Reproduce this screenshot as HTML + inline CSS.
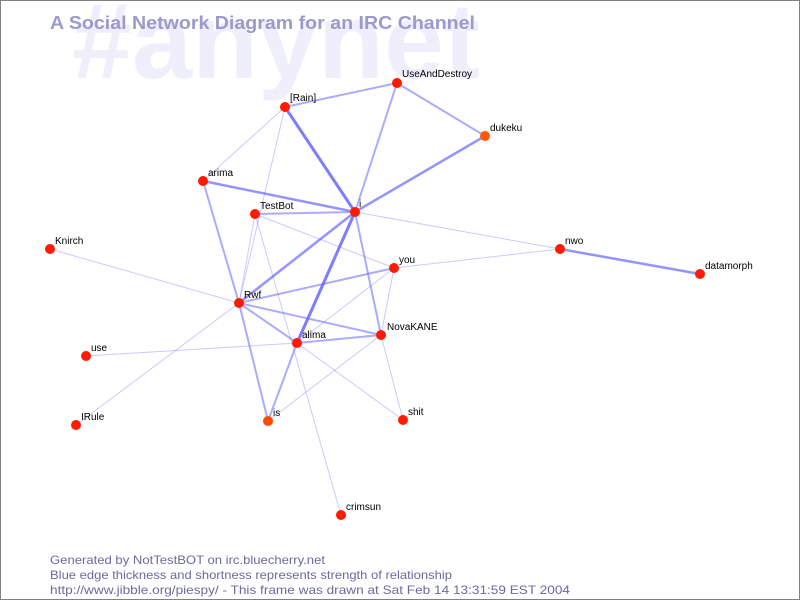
<!DOCTYPE html>
<html><head><style>
body{margin:0;background:#fff}
svg{display:block}
</style></head><body>
<svg width="800" height="600" xmlns="http://www.w3.org/2000/svg" font-family="Liberation Sans, DejaVu Sans, sans-serif">
<rect x="0.5" y="0.5" width="799" height="599" fill="#fff" stroke="#808080"/>
<text x="72" y="78" font-size="108" font-weight="bold" fill="#efeffc" textLength="408" lengthAdjust="spacingAndGlyphs">#anynet</text>
<text x="50" y="29" font-size="18" font-weight="bold" fill="#9a9acc" textLength="425" lengthAdjust="spacingAndGlyphs">A Social Network Diagram for an IRC Channel</text>
<g stroke="#6666ff" fill="none" stroke-linecap="round">
<g stroke-opacity="0.35" stroke-width="1">
<line x1="285" y1="107" x2="203" y2="181"/>
<line x1="285" y1="107" x2="239" y2="303"/>
<line x1="255" y1="214" x2="239" y2="303"/>
<line x1="255" y1="214" x2="394" y2="268"/>
<line x1="255" y1="214" x2="341" y2="515"/>
<line x1="355" y1="212" x2="560" y2="249"/>
<line x1="394" y1="268" x2="560" y2="249"/>
<line x1="50" y1="249" x2="239" y2="303"/>
<line x1="239" y1="303" x2="76" y2="425"/>
<line x1="297" y1="343" x2="86" y2="356"/>
<line x1="297" y1="343" x2="394" y2="268"/>
<line x1="394" y1="268" x2="381" y2="335"/>
<line x1="381" y1="335" x2="268" y2="421"/>
<line x1="297" y1="343" x2="403" y2="420"/>
<line x1="381" y1="335" x2="403" y2="420"/>
</g>
<g stroke-opacity="0.55" stroke-width="2">
<line x1="285" y1="107" x2="397" y2="83"/>
<line x1="397" y1="83" x2="485" y2="136"/>
<line x1="397" y1="83" x2="355" y2="212"/>
<line x1="255" y1="214" x2="355" y2="212"/>
<line x1="203" y1="181" x2="239" y2="303"/>
<line x1="355" y1="212" x2="381" y2="335"/>
<line x1="239" y1="303" x2="394" y2="268"/>
<line x1="239" y1="303" x2="381" y2="335"/>
<line x1="239" y1="303" x2="297" y2="343"/>
<line x1="239" y1="303" x2="268" y2="421"/>
<line x1="297" y1="343" x2="381" y2="335"/>
<line x1="297" y1="343" x2="268" y2="421"/>
</g>
<g stroke-opacity="0.7" stroke-width="2.5">
<line x1="203" y1="181" x2="355" y2="212"/>
<line x1="485" y1="136" x2="355" y2="212"/>
<line x1="355" y1="212" x2="239" y2="303"/>
<line x1="560" y1="249" x2="700" y2="274"/>
</g>
<g stroke-opacity="0.85" stroke-width="3">
<line x1="285" y1="107" x2="355" y2="212"/>
<line x1="355" y1="212" x2="297" y2="343"/>
</g>
</g>
<g fill="#ff1a00">
<circle cx="397" cy="83" r="5"/><circle cx="285" cy="107" r="5"/>
<circle cx="485" cy="136" r="5" fill="#ff5a00"/><circle cx="203" cy="181" r="5"/>
<circle cx="355" cy="212" r="5"/><circle cx="255" cy="214" r="5"/>
<circle cx="50" cy="249" r="5"/><circle cx="560" cy="249" r="5"/>
<circle cx="394" cy="268" r="5"/><circle cx="700" cy="274" r="5"/>
<circle cx="239" cy="303" r="5"/><circle cx="381" cy="335" r="5"/>
<circle cx="297" cy="343" r="5"/><circle cx="86" cy="356" r="5"/>
<circle cx="76" cy="425" r="5"/><circle cx="268" cy="421" r="5" fill="#ff4a00"/>
<circle cx="403" cy="420" r="5"/><circle cx="341" cy="515" r="5"/>
</g>
<g font-size="10" fill="#000">
<text x="402" y="77">UseAndDestroy</text>
<text x="290" y="101">[Rain]</text>
<text x="490" y="131">dukeku</text>
<text x="208" y="176">arima</text>
<text x="359" y="207">i</text>
<text x="260" y="209">TestBot</text>
<text x="55" y="244">Knirch</text>
<text x="565" y="244">nwo</text>
<text x="399" y="263">you</text>
<text x="705" y="269">datamorph</text>
<text x="244" y="298">Rwf</text>
<text x="387" y="330">NovaKANE</text>
<text x="302" y="338">alima</text>
<text x="91" y="351">use</text>
<text x="81" y="420">IRule</text>
<text x="273" y="416">is</text>
<text x="408" y="415">shit</text>
<text x="346" y="510">crimsun</text>
</g>
<g font-size="12" fill="#6a6aa0">
<text x="50" y="564" textLength="275" lengthAdjust="spacingAndGlyphs">Generated by NotTestBOT on irc.bluecherry.net</text>
<text x="50" y="579" textLength="402" lengthAdjust="spacingAndGlyphs">Blue edge thickness and shortness represents strength of relationship</text>
<text x="50" y="594" textLength="520" lengthAdjust="spacingAndGlyphs">http://www.jibble.org/piespy/ - This frame was drawn at Sat Feb 14 13:31:59 EST 2004</text>
</g>
</svg>
</body></html>
